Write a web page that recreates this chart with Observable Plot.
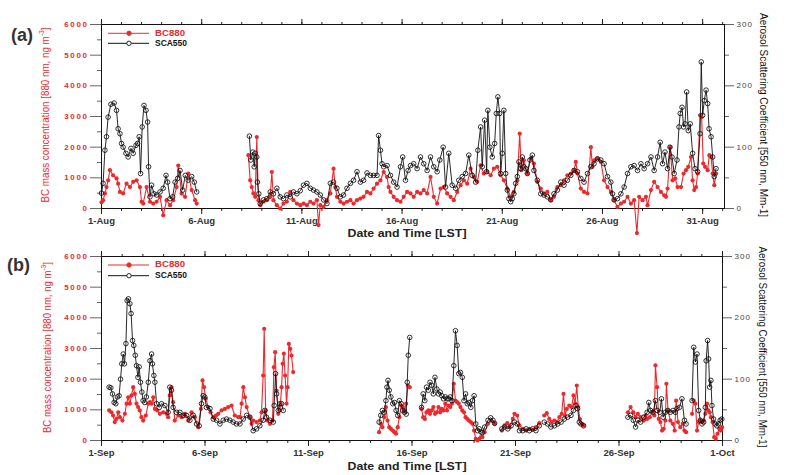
<!DOCTYPE html>
<html><head><meta charset="utf-8">
<script src="https://cdn.jsdelivr.net/npm/d3@7"></script>
<script src="https://cdn.jsdelivr.net/npm/@observablehq/plot@0.6"></script>
<style>
body{margin:0;background:#fff;}
#wrap{position:relative;width:790px;height:475px;overflow:hidden;background:#fff;}
#wrap svg{position:absolute;left:0;overflow:visible;}
</style></head><body><div id="wrap"></div>
<script>
// ---------- Panel (a): August ----------
const aXTickDays = [1, 6, 11, 16, 21, 26, 31];
const aXTickLabels = ["1-Aug", "6-Aug", "11-Aug", "16-Aug", "21-Aug", "26-Aug", "31-Aug"];
const aBcDay = [1.00,1.08,1.17,1.25,1.33,1.42,1.58,1.75,1.83,1.92,2.08,2.25,2.42,2.58,2.75,2.92,3.00,3.08,3.25,3.42,3.58,3.75,3.92,4.08,4.25,4.42,4.58,4.75,4.83,5.00,5.17,5.33,5.50,5.67,5.75,
7.00,
8.33,8.42,8.50,8.58,8.67,8.75,8.83,8.92,9.08,9.25,9.42,9.50,9.58,9.75,9.92,10.08,10.25,10.42,10.58,10.75,10.92,11.08,11.25,11.42,11.58,11.75,11.83,11.92,12.08,12.25,12.42,12.58,12.67,12.75,12.92,13.08,13.25,13.42,13.58,13.75,13.92,14.08,14.25,14.42,14.58,14.75,14.92,15.08,15.25,15.33,15.42,15.58,15.75,15.92,16.08,16.25,16.42,16.58,16.75,16.92,17.08,17.25,17.42,17.58,17.75,17.92,18.08,18.25,18.42,18.58,18.75,18.92,19.08,19.25,19.42,19.58,19.75,
19.92,20.08,20.25,20.42,20.58,20.75,20.92,21.08,21.25,21.42,21.58,21.75,21.87,21.95,22.08,22.25,22.42,22.58,22.75,22.92,23.08,23.25,23.42,23.58,23.75,23.92,24.08,24.25,24.42,24.58,24.67,24.75,24.92,25.08,25.25,25.42,25.50,25.58,25.75,25.92,26.08,26.25,26.42,26.58,26.75,26.92,27.08,27.25,27.42,27.58,27.72,27.83,28.00,28.17,28.25,28.42,28.58,28.75,28.92,29.08,29.17,29.25,29.38,29.50,29.63,29.75,29.92,30.05,30.17,30.28,30.42,30.50,30.58,30.67,30.75,30.87,30.95,31.03,31.12,31.25,31.33,31.42,31.50,31.58,31.67];
const aBcVal = [200,270,490,700,920,1250,1085,980,810,540,490,810,700,870,920,700,220,160,700,220,160,220,380,-220,270,110,270,700,1400,490,380,1140,600,270,160,
null,
1740,920,700,490,380,2330,270,110,220,270,380,1190,270,110,0,160,220,540,270,160,110,160,110,220,160,270,-540,110,50,270,490,1300,700,380,220,160,220,270,160,270,325,380,540,490,650,810,920,1190,1030,700,540,380,270,220,380,540,490,380,540,490,600,490,1030,380,160,650,700,490,380,270,540,760,920,810,1300,1030,870,
1410,1140,1190,1085,1300,1360,1085,920,650,380,540,920,2440,1250,1570,1140,1630,1465,870,650,490,540,270,380,700,760,920,1085,1140,1250,1520,1140,650,540,490,2000,1360,1570,1630,1520,920,700,540,270,50,160,220,380,160,270,-800,380,270,380,110,600,870,700,540,430,380,650,2000,920,980,700,700,1140,1250,1360,1680,920,600,700,1140,3040,2980,1465,1360,1250,1740,1680,1140,760,1140];
const aScaDay = [1.00,1.08,1.17,1.25,1.33,1.47,1.63,1.75,1.83,1.92,2.00,2.08,2.22,2.33,2.47,2.58,2.72,2.80,2.88,2.95,3.03,3.12,3.22,3.30,3.35,3.42,3.50,3.62,3.75,3.92,4.08,4.22,4.30,4.42,4.55,4.67,4.80,4.92,5.05,5.18,5.33,5.50,5.63,5.75,
7.00,
8.38,8.45,8.55,8.62,8.67,8.75,8.78,8.85,8.92,9.08,9.25,9.42,9.58,9.75,9.92,10.08,10.25,10.42,10.58,10.75,10.92,11.08,11.25,11.42,11.58,11.75,11.92,12.08,12.25,12.42,12.58,12.75,12.92,13.08,13.25,13.42,13.58,13.75,13.92,14.08,14.25,14.42,14.58,14.75,14.83,14.92,15.00,15.08,15.25,15.42,15.58,15.75,15.92,16.03,16.17,16.30,16.42,16.58,16.75,16.92,17.08,17.25,17.42,17.58,17.75,17.88,18.05,18.17,18.33,18.50,18.67,18.83,19.00,19.17,19.33,19.50,19.67,19.78,
19.92,20.00,20.12,20.22,20.28,20.38,20.50,20.62,20.70,20.78,20.87,20.92,21.00,21.08,21.17,21.25,21.33,21.42,21.50,21.58,21.67,21.75,21.83,21.92,22.00,22.08,22.17,22.25,22.38,22.50,22.58,22.75,22.92,23.08,23.25,23.42,23.58,23.75,23.92,24.08,24.25,24.42,24.58,24.75,24.92,25.08,25.25,25.42,25.58,25.75,25.92,26.08,26.25,26.42,26.50,26.58,26.75,26.92,27.08,27.25,27.42,27.58,27.75,27.92,28.08,28.25,28.42,28.58,28.75,28.88,29.00,29.12,29.25,29.37,29.47,29.58,29.72,29.82,29.88,29.97,30.05,30.12,30.20,30.28,30.38,30.50,30.62,30.75,30.87,30.93,31.00,31.08,31.17,31.25,31.32,31.42,31.50,31.58,31.67];
const aScaVal = [25,41,95,117,149,170,172,160,130,122,106,100,90,84,98,90,103,106,117,57,133,168,160,141,68,19,38,24,22,27,33,54,43,16,19,43,49,62,30,54,46,52,43,27,
null,
118,79,92,68,90,84,43,24,8,14,16,27,24,33,19,16,22,19,27,24,29,38,41,33,30,27,22,14,8,41,43,33,19,22,33,41,46,60,43,46,58,54,54,54,119,95,73,68,70,54,43,35,68,84,46,62,70,73,65,84,73,62,84,68,60,79,100,35,90,38,33,46,52,57,87,54,43,95,
133,68,144,60,160,100,84,106,155,182,155,57,90,160,57,30,16,11,16,24,41,52,76,65,84,68,65,57,79,87,62,46,24,22,19,14,24,30,43,38,46,54,62,60,49,43,57,68,73,81,79,73,52,43,24,14,16,24,35,57,68,70,62,73,65,73,84,62,84,108,73,92,65,100,84,57,79,133,155,165,133,138,190,127,138,90,65,60,122,239,152,176,193,171,130,117,84,52,65];

// ---------- Panel (b): September ----------
const bXTickDays = [1, 6, 11, 16, 21, 26, 31];
const bXTickLabels = ["1-Sep", "6-Sep", "11-Sep", "16-Sep", "21-Sep", "26-Sep", "1-Oct"];
const bBcDay = [1.37,1.48,1.56,1.64,1.72,1.81,1.89,2.01,2.13,2.21,2.29,2.37,2.45,2.53,2.61,2.69,2.77,2.85,2.93,3.01,3.14,3.26,3.34,3.42,3.50,3.58,3.69,3.82,3.98,4.14,4.22,4.30,4.38,4.46,4.54,4.71,4.87,5.03,5.19,5.35,5.51,5.67,5.80,5.88,5.95,6.04,6.16,6.27,6.40,6.53,6.64,6.80,6.96,7.12,7.28,7.44,7.61,
7.69,7.77,7.85,7.93,8.01,8.17,8.25,8.33,8.49,8.65,8.73,8.81,8.86,8.93,9.01,9.14,9.26,9.33,9.39,9.46,9.54,9.62,9.70,9.75,9.81,9.87,9.94,9.99,10.05,10.12,10.18,10.26,
12.00,
14.41,14.49,14.57,14.66,14.74,14.82,14.90,14.98,15.07,15.15,15.23,15.31,15.39,15.48,15.56,15.64,15.72,15.80,15.89,
16.20,
16.46,16.54,16.62,16.70,16.79,16.87,16.95,17.03,17.11,17.20,17.28,17.36,17.44,17.52,17.61,17.69,17.77,17.85,17.93,18.02,18.10,18.18,18.26,18.34,18.43,18.51,18.59,18.67,18.75,18.84,18.92,19.00,19.08,19.16,19.25,19.33,19.40,19.51,19.67,19.83,19.99,
20.15,
20.34,20.47,20.60,20.71,20.87,20.95,21.08,21.19,21.35,21.51,21.67,21.83,21.99,22.15,
22.27,
22.39,22.51,22.63,22.75,22.88,23.00,23.12,23.23,23.32,23.39,23.48,23.60,23.71,23.80,23.88,23.96,24.03,24.11,24.21,24.29,
25.50,
26.43,26.56,26.69,26.80,26.91,27.04,27.20,27.28,27.36,27.49,27.60,27.71,27.76,27.84,27.92,28.00,28.08,28.16,28.24,28.29,28.37,28.48,28.60,28.69,28.76,28.85,28.96,29.08,29.16,29.24,
29.38,
29.53,29.61,29.69,29.77,29.85,29.93,30.01,30.09,30.17,30.25,30.31,30.38,30.44,30.52,30.60,30.68,30.76,30.84,30.92,30.98];
const bBcVal = [980,920,815,600,705,920,760,650,870,1200,1410,1200,1470,1740,1520,1200,1090,980,760,650,815,1200,1250,1200,1410,1030,980,870,920,870,760,1470,1740,1250,650,815,760,870,650,920,760,435,1030,1960,1740,1360,1090,920,760,815,870,980,1030,1090,1140,815,760,
760,1200,1740,1410,1090,760,545,650,600,650,920,2120,3640,980,650,545,650,2390,2880,1630,870,980,1740,2500,2830,2120,1200,1740,3150,2990,2770,2230,
null,
270,545,435,760,1090,650,435,380,325,270,220,435,760,1140,1090,980,1200,1790,1740,
null,
1030,760,705,920,980,870,980,1090,870,920,1090,920,1030,980,1200,980,1140,1090,1200,1850,1300,1250,1200,1090,980,920,760,705,650,600,545,325,55,0,55,110,110,270,545,650,545,
null,
325,490,565,435,705,870,815,490,380,325,380,350,435,565,
null,
815,890,705,600,650,600,760,870,1520,815,1030,1140,1090,1470,1200,1790,1090,705,545,490,
null,
920,1090,920,760,870,760,650,815,705,760,920,815,2450,1740,705,600,325,380,650,1850,980,650,545,325,1300,600,435,545,325,270,
null,
870,1300,1200,325,600,650,600,650,870,1200,980,920,760,600,110,55,220,380,325,435];
const bScaDay = [1.37,1.45,1.53,1.61,1.69,1.77,1.85,1.92,1.98,2.05,2.11,2.18,2.24,2.30,2.37,2.43,2.50,2.56,2.63,2.69,2.76,2.82,2.88,2.95,3.01,3.09,3.17,3.26,3.34,3.42,3.46,3.53,3.58,3.66,3.79,3.90,4.06,4.22,4.30,4.38,4.46,4.62,4.79,4.95,5.11,5.27,5.43,5.59,5.72,5.83,5.91,5.99,6.07,6.24,6.40,6.56,6.72,6.88,7.04,7.20,7.36,7.52,
7.69,7.85,8.01,8.17,8.33,8.49,8.65,8.81,8.89,8.97,9.14,9.30,9.34,9.41,9.46,9.54,9.62,9.70,9.78,
12.00,
14.41,14.49,14.57,14.66,14.74,14.79,14.84,14.90,14.98,15.07,15.15,15.23,15.31,15.39,15.48,15.56,15.64,15.72,15.77,15.82,15.89,
16.20,
16.46,16.54,16.62,16.70,16.79,16.87,16.95,17.03,17.11,17.20,17.28,17.36,17.44,17.52,17.61,17.69,17.77,17.85,17.93,18.02,18.10,18.18,18.26,18.34,18.43,18.51,18.59,18.67,18.75,18.84,18.92,19.00,19.08,19.16,19.25,19.33,19.40,19.51,19.67,19.80,19.91,19.99,
20.15,
20.34,20.47,20.63,20.79,20.95,21.08,21.19,21.35,21.51,21.67,21.83,21.99,22.15,
22.27,
22.39,22.55,22.71,22.88,23.04,23.20,23.36,23.52,23.68,23.80,23.92,24.00,24.08,24.16,24.29,
25.50,
26.43,26.56,26.69,26.80,26.91,27.04,27.20,27.36,27.44,27.52,27.65,27.76,27.84,27.97,28.05,28.13,28.24,28.36,28.48,28.61,28.72,28.80,28.92,29.04,29.16,29.24,
29.38,
29.53,29.61,29.69,29.77,29.85,29.93,30.01,30.09,30.17,30.21,30.28,30.33,30.38,30.44,30.49,30.57,30.65,30.73,30.81,30.89,30.97];
const bScaVal = [87,86,76,62,60,71,73,100,125,141,125,158,228,231,223,207,163,155,139,122,103,120,95,79,65,62,71,95,130,141,125,106,95,60,54,60,57,46,87,82,54,46,46,41,41,33,41,27,24,60,73,71,54,52,35,33,27,33,35,33,30,27,
27,35,41,38,16,19,24,33,49,38,33,30,57,109,76,49,60,60,49,
null,
30,41,49,46,65,87,98,82,71,60,62,49,41,65,60,49,46,43,95,139,168,
null,
54,76,65,87,82,95,90,76,103,84,76,79,73,68,71,68,68,71,65,122,179,155,109,111,103,65,76,60,62,54,65,73,27,16,19,14,13,22,33,37,33,28,
null,
19,22,19,24,30,27,16,16,19,16,19,16,24,
null,
30,27,22,24,27,30,35,38,41,49,57,52,30,27,24,
null,
38,41,33,22,33,30,38,46,62,49,46,65,49,46,68,38,46,49,46,49,46,52,54,68,33,27,
null,
65,152,128,141,49,33,27,30,54,130,163,133,87,98,57,35,27,24,27,33,35];

// ---------- Shared axis ticks ----------
const bcTicks = [0, 1000, 2000, 3000, 4000, 5000, 6000];
const bcMinorTicks = [500, 1500, 2500, 3500, 4500, 5500];
const scaTicks = [0, 100, 200, 300];
const scaMinorTicks = [50, 150, 250];
const BC_MAX = 6000, SCA_MAX = 300;

const RED = "#ec2a2e";
const FONT = "'Liberation Sans', Arial, Helvetica, sans-serif";

function panel(cfg) {
  const bc = cfg.bcDay.map((d, i) => ({day: d, v: cfg.bcVal[i]}));
  const sca = cfg.scaDay.map((d, i) => ({day: d, v: cfg.scaVal[i]}));
  const k = BC_MAX / SCA_MAX;
  const yBC = d => d.v == null ? NaN : d.v;
  const ySCA = d => d.v == null ? NaN : d.v * k;
  const minor = d3.range(1, Math.floor(cfg.xMax) + 0.5, 1);
  const lab = new Map(cfg.tickDays.map((d, i) => [d, cfg.tickLabels[i]]));
  const blank = () => "";
  return Plot.plot({
    width: 790, height: cfg.height,
    marginLeft: 101, marginRight: cfg.marginRight, marginTop: cfg.marginTop, marginBottom: cfg.marginBottom,
    x: {type: "linear", domain: [1, cfg.xMax], axis: null},
    y: {domain: [0, BC_MAX], axis: null},
    style: {fontFamily: FONT, background: "transparent", overflow: "visible"},
    marks: [
      Plot.axisX({anchor: "bottom", ticks: minor, tickSize: 3, tickFormat: blank, label: null, stroke: "#222"}),
      Plot.axisX({anchor: "bottom", ticks: cfg.tickDays, tickSize: 6, tickPadding: 3, tickFormat: d => lab.get(d), label: null,
        stroke: "#222", fill: "#333", fontSize: 9.5, fontWeight: "bold"}),
      Plot.axisX({anchor: "top", ticks: minor, tickSize: 3, tickFormat: blank, label: null, stroke: "#222"}),
      Plot.axisX({anchor: "top", ticks: cfg.tickDays, tickSize: 6, tickFormat: blank, label: null, stroke: "#222"}),
      Plot.axisY({anchor: "left", ticks: bcTicks, tickSize: 11, tickPadding: 2, tickFormat: d => String(d), label: null,
        stroke: "#666", fill: RED, fontSize: 8, fontWeight: "bold"}),
      Plot.axisY({anchor: "left", ticks: bcMinorTicks, tickSize: 4, tickFormat: blank, label: null, stroke: "#666"}),
      Plot.axisY({anchor: "right", ticks: scaTicks.map(v => v * k), tickSize: 9, tickPadding: 3, tickFormat: d => String(d / k), label: null,
        stroke: "#666", fill: "#444", fontSize: 8}),
      Plot.axisY({anchor: "right", ticks: scaMinorTicks.map(v => v * k), tickSize: 4, tickFormat: blank, label: null, stroke: "#666"}),
      Plot.frame({stroke: "#111"}),
      Plot.line(bc, {x: "day", y: yBC, stroke: RED, strokeWidth: 1.1}),
      Plot.dot(bc.filter(d => d.v != null), {x: "day", y: yBC, r: 2.1, fill: RED, stroke: "none"}),
      Plot.line(sca, {x: "day", y: ySCA, stroke: "#111", strokeWidth: 0.9}),
      Plot.dot(sca.filter(d => d.v != null), {x: "day", y: ySCA, r: 2.3, fill: "none", stroke: "#111", strokeWidth: 0.85})
    ]
  });
}

function decorate(svg, o) {
  const s = d3.select(svg);
  s.selectAll('g[aria-label="y-axis tick label"]').each(function () {
    const g = d3.select(this);
    g.style("letter-spacing", g.attr("fill") === RED ? "1.6px" : "1px");
  });
  const text = (x, y, rot, len, size, color, weight, parts) => {
    const t = s.append("text")
      .attr("transform", `translate(${x},${y}) rotate(${rot})`)
      .attr("text-anchor", "middle").attr("dominant-baseline", "middle")
      .attr("font-family", FONT).attr("font-size", size).attr("font-weight", weight)
      .attr("fill", color);
    parts.forEach(p => {
      const ts = t.append("tspan").text(p[0]);
      if (p[1]) ts.attr("baseline-shift", "super").attr("font-size", size * 0.7);
    });
    if (len) t.attr("textLength", len).attr("lengthAdjust", "spacingAndGlyphs");
    return t;
  };
  // panel tag
  s.append("text").attr("x", o.tagX).attr("y", o.tagY).attr("text-anchor", "start").attr("font-family", FONT)
    .attr("font-size", 18).attr("font-weight", "bold").attr("fill", "#333").text(o.tag);
  // axis titles
  text(o.lX, o.lY, -90, o.lLen, 11, RED, "normal",
    [["BC mass concentration [880 nm, ng m"], ["-3", true], ["]"]]);
  text(o.rX, o.rY, 90, o.rLen, 11, "#111", "normal",
    [["Aerosol Scattering Coefficient [550 nm, Mm-1]"]]);
  text(407, o.xTitleY, 0, 119, 11, "#222", "bold", [["Date and Time [LST]"]]);
  // legend
  const lg = s.append("g");
  const rows = [[o.legY1, RED, "BC880", true], [o.legY2, "#111", "SCA550", false]];
  rows.forEach(([y, c, name, filled]) => {
    lg.append("line").attr("x1", 108).attr("x2", 149).attr("y1", y).attr("y2", y)
      .attr("stroke", c).attr("stroke-width", 1);
    lg.append("circle").attr("cx", 129).attr("cy", y).attr("r", 2.2)
      .attr("fill", filled ? c : "white").attr("stroke", c).attr("stroke-width", 0.9);
    lg.append("text").attr("x", 155).attr("y", y).attr("text-anchor", "start").attr("dominant-baseline", "middle")
      .attr("font-family", FONT).attr("font-size", 8.5).attr("font-weight", "bold").attr("fill", c)
      .attr("textLength", name.length === 5 ? 30 : 32).attr("lengthAdjust", "spacingAndGlyphs").text(name);
  });
}

const wrap = document.getElementById("wrap");

const svgA = panel({bcDay: aBcDay, bcVal: aBcVal, scaDay: aScaDay, scaVal: aScaVal,
  tickDays: aXTickDays, tickLabels: aXTickLabels, xMax: 32.09,
  height: 242, marginTop: 24, marginBottom: 34, marginRight: 66});
svgA.style.top = "0px";
wrap.appendChild(svgA);
decorate(svgA, {tag: "(a)", tagX: 11, tagY: 41, lX: 46, lY: 115, lLen: 175, rX: 763, rY: 115, rLen: 204,
  xTitleY: 234, legY1: 33.3, legY2: 43.3});

const svgB = panel({bcDay: bBcDay, bcVal: bBcVal, scaDay: bScaDay, scaVal: bScaVal,
  tickDays: bXTickDays, tickLabels: bXTickLabels, xMax: 31,
  height: 233, marginTop: 14, marginBottom: 35, marginRight: 68});
svgB.style.top = "242px";
wrap.appendChild(svgB);
decorate(svgB, {tag: "(b)", tagX: 7, tagY: 29, lX: 48, lY: 105.5, lLen: 171, rX: 762, rY: 105, rLen: 201,
  xTitleY: 224.5, legY1: 23, legY2: 33.7});
</script></body></html>
